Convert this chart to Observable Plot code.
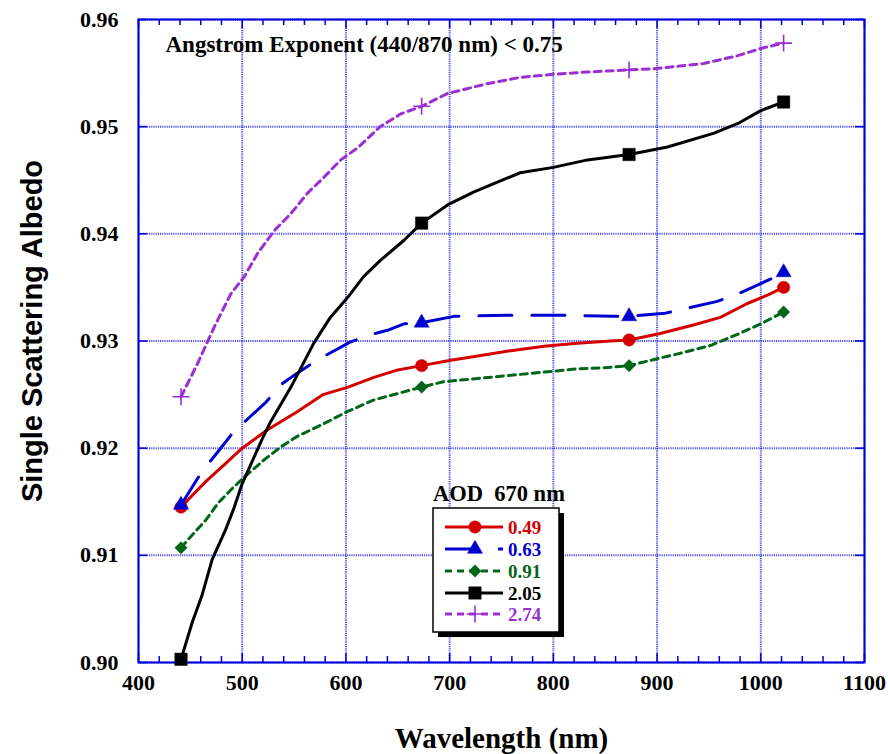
<!DOCTYPE html>
<html><head><meta charset="utf-8">
<script src="https://cdn.jsdelivr.net/npm/d3@7"></script>
<script src="https://cdn.jsdelivr.net/npm/@observablehq/plot@0.6"></script>
<style>
body{margin:0;background:#fff}
#wrap{position:relative;width:888px;height:754px}
#legend{position:absolute;left:425px;top:475px}
</style>
</head><body><div id="wrap"></div>
<script>
// ---- data ----
const seriesNames = ["0.49", "0.63", "0.91", "2.05", "2.74"];
const seriesColors = ["#d40000", "#0000d0", "#00661a", "#000000", "#9a2fd4"];
const seriesSymbols = ["circle", "triangle", "diamond2", "square", "plus"];

const markerWl = [441, 673, 873, 1022];

const wl049 = [441, 452, 465, 482, 500, 524, 553, 578, 602, 627, 650, 673, 701, 727, 759, 791, 823, 855, 873, 903, 935, 961, 987, 1007, 1022];
const ssa049 = [0.9145, 0.9156, 0.9169, 0.9184, 0.9200, 0.9217, 0.9234, 0.9250, 0.9257, 0.9266, 0.9273, 0.9277, 0.9282, 0.9286, 0.9291, 0.9295, 0.9298, 0.9300, 0.9301, 0.9307, 0.9315, 0.9322, 0.9335, 0.9343, 0.9350];
const mk049 = [0.9145, 0.9277, 0.9301, 0.9350];

const wl063 = [441, 461, 476, 489, 505, 523, 537, 553, 572, 604, 624, 640, 656, 673, 704, 756, 807, 858, 873, 908, 926, 958, 978, 1010, 1022];
const ssa063 = [0.9147, 0.9178, 0.9196, 0.9212, 0.9227, 0.9243, 0.9259, 0.9270, 0.9282, 0.9299, 0.9306, 0.9310, 0.9316, 0.9317, 0.9323, 0.9324, 0.9324, 0.9323, 0.9323, 0.9326, 0.9330, 0.9337, 0.9344, 0.9358, 0.9364];
const mk063 = [0.9147, 0.9317, 0.9323, 0.9364];

const wl091 = [441, 449, 465, 477, 489, 502, 521, 537, 553, 579, 601, 627, 650, 673, 694, 727, 759, 791, 823, 849, 873, 894, 920, 952, 977, 1000, 1022];
const ssa091 = [0.9107, 0.9116, 0.9133, 0.9149, 0.9161, 0.9173, 0.9189, 0.9201, 0.9211, 0.9223, 0.9234, 0.9245, 0.9251, 0.9257, 0.9262, 0.9265, 0.9268, 0.9271, 0.9274, 0.9275, 0.9277, 0.9282, 0.9288, 0.9296, 0.9306, 0.9316, 0.9327];
const mk091 = [0.9107, 0.9257, 0.9277, 0.9327];

const wl205 = [441, 452, 461, 471, 484, 492, 500, 519, 527, 547, 569, 585, 602, 617, 633, 656, 673, 698, 723, 768, 800, 833, 873, 910, 955, 978, 1000, 1022];
const ssa205 = [0.9003, 0.9038, 0.9062, 0.9096, 0.9124, 0.9144, 0.9167, 0.9208, 0.9224, 0.9257, 0.9298, 0.9322, 0.9341, 0.9360, 0.9375, 0.9394, 0.9410, 0.9427, 0.9439, 0.9457, 0.9462, 0.9469, 0.9474, 0.9481, 0.9494, 0.9503, 0.9515, 0.9523];
const mk205 = [0.9003, 0.9410, 0.9474, 0.9523];

const wl274 = [441, 457, 473, 489, 502, 515, 531, 547, 563, 579, 595, 611, 633, 653, 673, 698, 736, 768, 801, 833, 873, 897, 945, 977, 1000, 1022];
const ssa274 = [0.9248, 0.9279, 0.9313, 0.9344, 0.9360, 0.9382, 0.9403, 0.9419, 0.9438, 0.9453, 0.9469, 0.9480, 0.9500, 0.9512, 0.9519, 0.9531, 0.9540, 0.9546, 0.9549, 0.9551, 0.9553, 0.9554, 0.9559, 0.9566, 0.9573, 0.9578];
const mk274 = [0.9248, 0.9519, 0.9553, 0.9578];

const xTicks = [400, 500, 600, 700, 800, 900, 1000, 1100];
const yTicks = [0.90, 0.91, 0.92, 0.93, 0.94, 0.95, 0.96];
const xMinorTicks = d3.range(420, 1100, 20).filter(d => d % 100 !== 0);

const xTitle = "Wavelength (nm)";
const yTitle = "Single Scattering Albedo";
const note = "Angstrom Exponent (440/870 nm) < 0.75";
const legendTitle = "AOD  670 nm";

// ---- build tables ----
const curveWl = [wl049, wl063, wl091, wl205, wl274];
const curveSsa = [ssa049, ssa063, ssa091, ssa205, ssa274];
const markSsa = [mk049, mk063, mk091, mk205, mk274];
const curves = seriesNames.map((s, i) => curveWl[i].map((w, j) => ({series: s, wl: w, ssa: curveSsa[i][j]})));
const markers = seriesNames.map((s, i) => markerWl.map((w, j) => ({series: s, wl: w, ssa: markSsa[i][j]})));

const lineStyles = [
  {strokeWidth: 3},
  {strokeWidth: 3, strokeDasharray: "33 20"},
  {strokeWidth: 3, strokeDasharray: "7 5"},
  {strokeWidth: 3},
  {strokeWidth: 3, strokeDasharray: "7 5"}
];
const symbolR = {circle: 6.2, triangle: 5.6, diamond2: 5.6, square: 7, plus: 5.5};

const W = 888, H = 754, mL = 138, mR = 24, mT = 19, mB = 92;
const fW = W - mL - mR, fH = H - mT - mB;
const gridColor = "#1a1ae6";
const axisColor = "#0000dd";
const serif = "Liberation Serif, Times New Roman, serif";

const marks = [
  Plot.gridX(xTicks, {stroke: gridColor, strokeOpacity: 0.75, strokeWidth: 2, strokeDasharray: "1.2 1"}),
  Plot.gridY(yTicks, {stroke: gridColor, strokeOpacity: 0.75, strokeWidth: 2, strokeDasharray: "1.2 1"}),
  // inward ticks
  Plot.tickX(xMinorTicks, {stroke: axisColor, strokeWidth: 1.5, insetTop: fH - 6}),
  Plot.tickX(xMinorTicks, {stroke: axisColor, strokeWidth: 1.5, insetBottom: fH - 6}),
  Plot.tickX(xTicks, {stroke: axisColor, strokeWidth: 1.5, insetTop: fH - 9}),
  Plot.tickX(xTicks, {stroke: axisColor, strokeWidth: 1.5, insetBottom: fH - 9}),
  Plot.tickY(yTicks, {stroke: axisColor, strokeWidth: 1.5, insetRight: fW - 9}),
  Plot.tickY(yTicks, {stroke: axisColor, strokeWidth: 1.5, insetLeft: fW - 9}),
  Plot.frame({stroke: axisColor, strokeWidth: 2}),
  Plot.axisX(xTicks, {tickSize: 0, tickPadding: 12, fontSize: 22, fontWeight: "bold", fontFamily: serif, label: null, fill: "black", tickFormat: d => String(d)}),
  Plot.axisY(yTicks, {tickSize: 0, tickPadding: 20, fontSize: 22, fontWeight: "bold", fontFamily: serif, label: null, fill: "black", tickFormat: d3.format(".2f")}),
];

seriesNames.forEach((s, i) => {
  marks.push(Plot.line(curves[i], {x: "wl", y: "ssa", stroke: seriesColors[i], curve: "linear", ...lineStyles[i]}));
});
seriesNames.forEach((s, i) => {
  const sym = seriesSymbols[i];
  const stroked = sym === "plus";
  marks.push(Plot.dot(markers[i], {
    x: "wl", y: "ssa", symbol: () => sym,
    r: symbolR[sym],
    fill: stroked ? "none" : seriesColors[i],
    stroke: seriesColors[i], strokeWidth: stroked ? 1.6 : 0.5
  }));
});

marks.push(
  Plot.text([note], {frameAnchor: "top-left", dx: 27, dy: 25, textAnchor: "start", lineAnchor: "middle", fontSize: 23, fontWeight: "bold", fontFamily: serif, fill: "black"}),
  Plot.text([xTitle], {frameAnchor: "bottom", dy: 76, textAnchor: "middle", lineAnchor: "middle", fontSize: 29, fontWeight: "bold", fontFamily: serif, fill: "black"}),
  Plot.text([yTitle], {frameAnchor: "left", dx: -106, dy: -10, rotate: -90, textAnchor: "middle", lineAnchor: "middle", fontSize: 29, fontWeight: "bold", fontFamily: "Liberation Sans, Arial, sans-serif", fill: "black"})
);

const chart = Plot.plot({
  width: W, height: H,
  marginLeft: mL, marginRight: mR, marginTop: mT, marginBottom: mB,
  x: {domain: [400, 1100], axis: null},
  y: {domain: [0.90, 0.96], axis: null},
  style: {background: "white", fontFamily: serif, overflow: "visible"},
  marks
});
const wrap = document.getElementById("wrap");
wrap.appendChild(chart);

// ---- legend (overlay) ----
const lg = d3.select(wrap).append("svg").attr("id", "legend").attr("width", 160).attr("height", 170);
const ox = 425, oy = 475;
const bx = 433 - ox, by = 508 - oy, bw = 126, bh = 124;
lg.append("text").attr("x", 433 - ox).attr("y", 501 - oy).attr("xml:space", "preserve")
  .style("white-space", "pre").attr("font-family", serif).attr("font-weight", "bold").attr("font-size", 22.5)
  .text(legendTitle);
lg.append("rect").attr("x", bx + 5).attr("y", by + 5).attr("width", bw).attr("height", bh).attr("fill", "black");
lg.append("rect").attr("x", bx).attr("y", by).attr("width", bw).attr("height", bh).attr("fill", "white").attr("stroke", "black").attr("stroke-width", 1.5);
const rowY = [527, 549, 571, 593, 614];
seriesNames.forEach((s, i) => {
  const y = rowY[i] - oy;
  const st = lineStyles[i];
  lg.append("line").attr("x1", 445 - ox).attr("x2", 503 - ox).attr("y1", y).attr("y2", y)
    .attr("stroke", seriesColors[i]).attr("stroke-width", st.strokeWidth)
    .attr("stroke-dasharray", st.strokeDasharray || null);
  const sym = seriesSymbols[i];
  const symType = {circle: d3.symbolCircle, triangle: d3.symbolTriangle, diamond2: d3.symbolDiamond2, square: d3.symbolSquare, plus: d3.symbolPlus}[sym];
  const r = symbolR[sym];
  lg.append("path").attr("transform", `translate(${475 - ox},${y})`)
    .attr("d", d3.symbol(symType, Math.PI * r * r)())
    .attr("fill", sym === "plus" ? "none" : seriesColors[i])
    .attr("stroke", seriesColors[i]).attr("stroke-width", sym === "plus" ? 1.6 : 0.5);
  lg.append("text").attr("x", 508 - ox).attr("y", y).attr("dy", "0.35em")
    .attr("font-family", serif).attr("font-weight", "bold").attr("font-size", 19)
    .attr("fill", seriesColors[i]).text(s);
});
</script>
</body></html>
